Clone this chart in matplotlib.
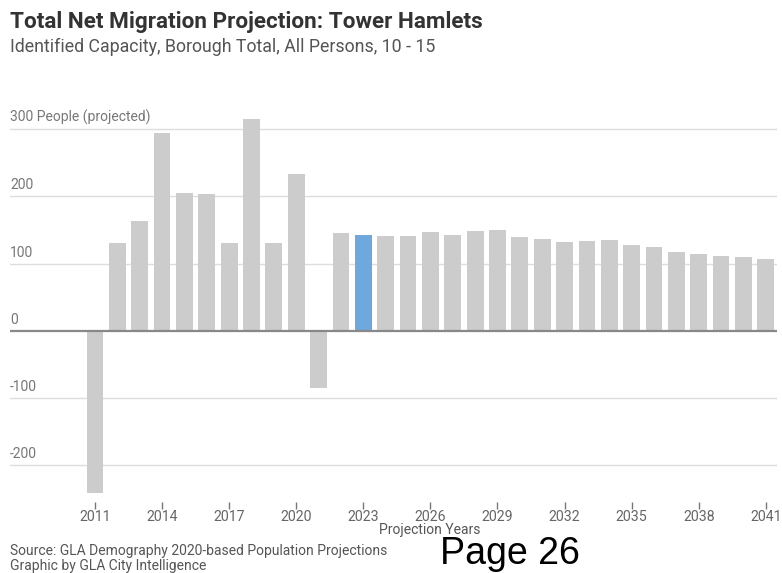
import matplotlib
matplotlib.use("Agg")
import matplotlib.pyplot as plt

years = list(range(2011, 2042))
values = [-242, 131, 164, 294, 205, 204, 130, 316, 131, 234, -86,
          145, 143, 141, 141, 147, 143, 148, 150, 140, 137, 132, 133,
          135, 127, 124, 118, 114, 111, 110, 107]
highlight_year = 2023
xtick_years = list(range(2011, 2042, 3))
ytick_values = [-200, -100, 0, 100, 200, 300]
ytick_labels = ["-200", "-100", "0", "100", "200", "300 People (projected)"]

plt.rcParams['font.family'] = ['Roboto', 'DejaVu Sans']

fig = plt.figure(figsize=(7.82, 5.73), dpi=100)
ax = fig.add_axes([10/782, 1-493.8/573, 767/782, (493.8-117.3)/573])

colors = ['#6fa8dc' if y == highlight_year else '#cccccc' for y in years]
ax.bar(years, values, width=0.75, color=colors, zorder=2)

ax.set_xlim(2007.2, 2041.5)
ax.set_ylim(-243, 318)

for v in ytick_values:
    if v == 0:
        continue
    ax.axhline(v, color='#dddddd', lw=1, zorder=1)
ax.axhline(0, color='#888888', lw=1.6, zorder=3)

ax.set_yticks([])
for v, lab in zip(ytick_values, ytick_labels):
    ax.text(0.0, v + 6, lab, transform=ax.get_yaxis_transform(),
            ha='left', va='bottom', fontsize=10, color='#777777')

for s in ['top', 'right', 'left']:
    ax.spines[s].set_visible(False)
ax.spines['bottom'].set_position(('outward', 6))
ax.spines['bottom'].set_visible(False)
ax.set_xticks(xtick_years)
ax.set_xticklabels([str(y) for y in xtick_years])
ax.tick_params(axis='x', length=5, width=1, color='#777777', labelcolor='#666666',
               labelsize=10.2, pad=1)

fig.text(430/782, 1-530/573, "Projection Years", fontsize=10, color='#555555',
         ha='center', va='center')
fig.text(10/782, 1-22/573, "Total Net Migration Projection: Tower Hamlets",
         fontsize=16.2, fontweight='bold', color='#333333', ha='left', va='center')
fig.text(10/782, 1-47/573, "Identified Capacity, Borough Total, All Persons, 10 - 15",
         fontsize=12.8, color='#555555', ha='left', va='center')
fig.text(10/782, 1-551/573, "Source: GLA Demography 2020-based Population Projections",
         fontsize=10, color='#555555', ha='left', va='center')
fig.text(10/782, 1-566/573, "Graphic by GLA City Intelligence",
         fontsize=10, color='#555555', ha='left', va='center')
fig.text(440/782, 1-564/573, "Page 26", fontsize=27, color='black',
         family='Liberation Sans', ha='left', va='baseline')

fig.savefig("out.png", dpi=100, facecolor='white')
